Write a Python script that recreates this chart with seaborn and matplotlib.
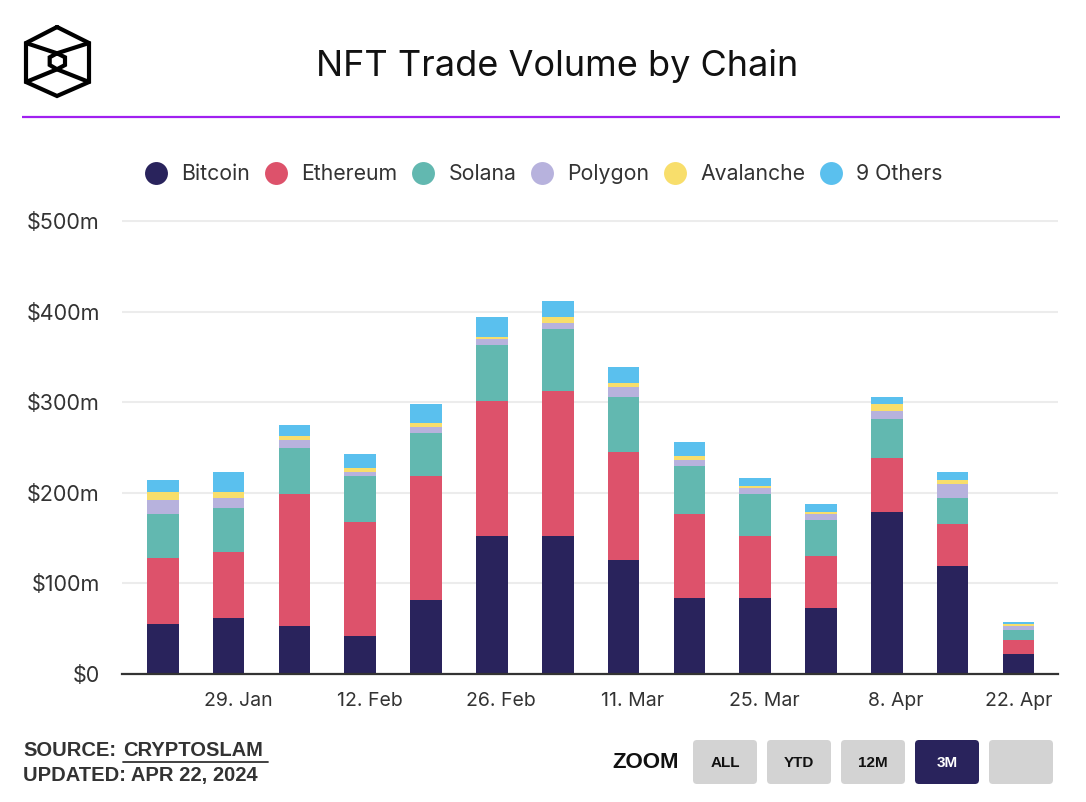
import numpy as np
import pandas as pd
import seaborn as sns
import matplotlib.pyplot as plt
from matplotlib.lines import Line2D
from matplotlib.patches import FancyBboxPatch

# weekly NFT trade volume, $m
weeks = ["22. Jan", "29. Jan", "5. Feb", "12. Feb", "19. Feb", "26. Feb", "4. Mar",
         "11. Mar", "18. Mar", "25. Mar", "1. Apr", "8. Apr", "15. Apr", "22. Apr"]
bitcoin = [55, 61.7, 52.9, 41.9, 81.5, 152, 152, 125.6, 83.7, 83.7, 72.7, 178.4, 118.9, 22]
ethereum = [72.7, 72.7, 145.3, 125.5, 136.6, 149.8, 160.8, 118.9, 92.5, 68.3, 57.3, 59.5, 46.3, 15.4]
solana = [48.4, 48.4, 50.7, 50.7, 48.4, 61.6, 68.3, 61.7, 52.9, 46.2, 39.6, 44.0, 28.6, 11.1]
polygon = [15.4, 11, 8.8, 4.4, 6.6, 6.6, 6.6, 11, 6.6, 6.6, 6.6, 8.8, 15.5, 4.4]
avalanche = [8.8, 6.6, 4.4, 4.4, 4.4, 2.2, 6.6, 4.4, 4.4, 2.2, 2.2, 6.7, 4.4, 2.2]
others = [13.3, 22.1, 13.2, 15.4, 19.9, 22.1, 17.6, 17.6, 15.4, 8.9, 8.8, 8.8, 8.8, 2.2]

series = ["Bitcoin", "Ethereum", "Solana", "Polygon", "Avalanche", "9 Others"]
colors = ["#29235c", "#dd526b", "#62b8b0", "#b7b2dd", "#f8de6b", "#5ac0ee"]
tick_labels = ["29. Jan", "12. Feb", "26. Feb", "11. Mar", "25. Mar", "8. Apr", "22. Apr"]

df = pd.DataFrame({"week": weeks, "Bitcoin": bitcoin, "Ethereum": ethereum,
                   "Solana": solana, "Polygon": polygon, "Avalanche": avalanche,
                   "9 Others": others})
cum = df[series].cumsum(axis=1)
cum["week"] = df["week"]

sns.set_theme(style="white")
plt.rcParams["font.family"] = ["Inter", "DejaVu Sans"]

W, H = 1086, 802
fig = plt.figure(figsize=(W / 100, H / 100), dpi=100)
ax = fig.add_axes([122 / W, (H - 674) / H, (1058 - 122) / W, (674 - 220) / H])

# stacked bars: draw cumulative totals from the top series down
for name, col in reversed(list(zip(series, colors))):
    sns.barplot(data=cum, x="week", y=name, color=col, saturation=1,
                width=0.48, ax=ax, zorder=3, linewidth=0, edgecolor="none")

ax.set_xlim(-0.62, 13.6)
ax.set_ylim(0, 501)
ax.set_xlabel("")
ax.set_ylabel("")
yt = [0, 100, 200, 300, 400, 500]
ax.set_yticks(yt)
ax.set_yticklabels(["$0"] + [f"${v}m" for v in yt[1:]])
xt = np.arange(1, 14, 2) + 0.14
xt[-1] = 13.0
ax.set_xticks(xt)
ax.set_xticklabels(tick_labels)
ax.tick_params(axis="y", length=0, pad=16, labelsize=15.5, labelcolor="#333333")
ax.tick_params(axis="x", length=0, pad=13, labelsize=14, labelcolor="#333333")
ax.yaxis.grid(True, color="#ececec", lw=1.5, zorder=0)
ax.set_axisbelow(True)
for s in ["left", "right", "top"]:
    ax.spines[s].set_visible(False)
ax.spines["bottom"].set_color("#333333")
ax.spines["bottom"].set_linewidth(1.6)
ax.spines["bottom"].set_zorder(5)

handles = [Line2D([], [], marker="o", ls="", markersize=16.5, color=c, markeredgewidth=0)
           for c in colors]
fig.legend(handles, series, loc="center", bbox_to_anchor=(544 / W, 1 - 174 / H),
           ncol=6, frameon=False, fontsize=15.3, handlelength=1.0, handletextpad=0.7,
           columnspacing=0.7, labelcolor="#333333")

# header / footer overlay in pixel coordinates
ov = fig.add_axes([0, 0, 1, 1], zorder=-1)
ov.set_xlim(0, W)
ov.set_ylim(H, 0)
ov.axis("off")

ov.text(557, 66, "NFT Trade Volume by Chain", ha="center", va="center",
        fontsize=26, color="#111111")
ov.plot([22, 1060], [117, 117], color="#a020f0", lw=1.6, solid_capstyle="butt")

# logo
lk = dict(color="black", lw=3, solid_joinstyle="miter", solid_capstyle="round")
ov.plot([57, 89, 89, 57, 26, 26, 57], [27, 43, 82, 96, 82, 43, 27], **lk)
ov.plot([26, 57, 89], [43, 53.3, 43], **lk)
ov.plot([26, 57, 89], [82, 69.3, 82], **lk)
ov.plot([57, 65, 65, 57, 49.7, 49.7, 57], [53.3, 57.3, 65, 69.3, 65, 57.3, 53.3], **lk)

ff = ["Liberation Sans", "DejaVu Sans"]
ov.text(23, 750, "SOURCE:", family=ff, fontweight="bold", fontsize=14.5,
        va="center", color="#333333")
ov.text(123, 750, "CRYPTOSLAM", family=ff, fontweight="bold", fontsize=14.5,
        va="center", color="#333333")
ov.plot([123, 268], [761.5, 761.5], color="#333333", lw=1.3)
ov.text(23, 775, "UPDATED: APR 22, 2024", family=ff, fontweight="bold", fontsize=14.5,
        va="center", color="#333333")

ov.text(612, 762, "ZOOM", family=ff, fontweight="bold", fontsize=16,
        va="center", color="#111111")
buttons = [("ALL", 693), ("YTD", 767), ("12M", 841), ("3M", 915), ("", 989)]
for lab, bx in buttons:
    active = lab == "3M"
    ov.add_patch(FancyBboxPatch((bx, 740), 64, 44,
                                boxstyle="round,pad=0,rounding_size=4",
                                fc="#29235c" if active else "#d3d3d3", ec="none"))
    ov.text(bx + 32, 763, lab, family=ff, fontweight="bold", fontsize=11,
            ha="center", va="center", color="white" if active else "#111111")

fig.savefig("out.png", dpi=100)
